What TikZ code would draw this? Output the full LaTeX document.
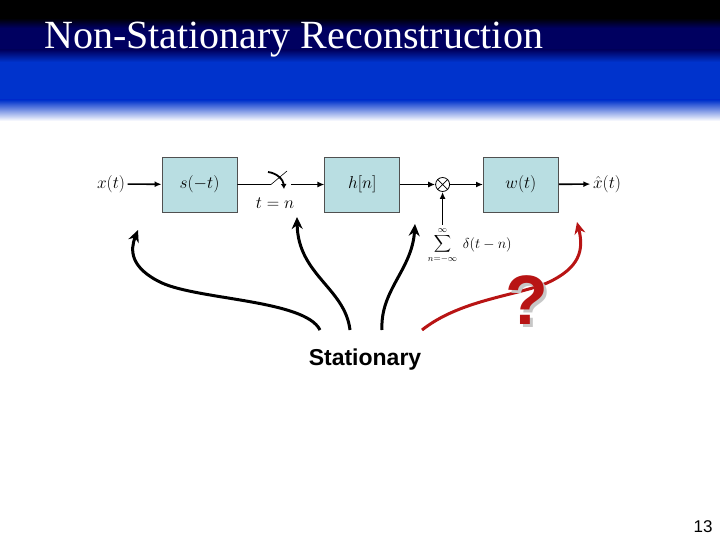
\documentclass[tikz,border=0pt]{standalone}
\usepackage{fontspec}
\usepackage{amsmath}
\usepackage{tikz}
\usetikzlibrary{positioning}
\usetikzlibrary{calc,arrows.meta}
\newfontfamily\headfont{Liberation Serif}
\newfontfamily\slidefont{Liberation Sans}
\definecolor{hd-navy}{HTML}{000060}
\definecolor{hd-blue}{HTML}{0033CC}
\definecolor{bx-fill}{HTML}{B9DEE2}
\definecolor{bx-edge}{HTML}{505050}
\definecolor{ask-red}{HTML}{B81414}

\begin{document}
\begin{tikzpicture}[
    x=1pt, y=-1pt, % pixel grid, origin top left
    node distance=87pt,
    >={Latex[length=7pt,width=6pt]},
    font=\fontsize{16}{18}\selectfont
  ]

  % Styles for the sampling chain
  \tikzset{
    blk/.style={draw=bx-edge, line width=0.8pt, fill=bx-fill, minimum width=75pt, minimum height=55pt, inner sep=0pt},
    sig/.style={->, line width=1.6pt},
    bigarrow/.style={line width=3pt, -{Stealth[length=12pt,width=11pt]}},
    lbl/.style={inner sep=2.5pt}
  }

  \useasboundingbox (0,0) rectangle (720,540);

  % Header band
  \fill[black] (0,0) rectangle (720,18);
  \shade[top color=black, bottom color=hd-navy] (0,18) rectangle (720,28);
  \fill[hd-navy] (0,28) rectangle (720,50);
  \shade[top color=hd-navy, bottom color=hd-blue] (0,50) rectangle (720,62);
  \fill[hd-blue] (0,62) rectangle (720,100);
  \shade[top color=hd-blue, bottom color=white] (0,100) rectangle (720,121);
  \node (title) [anchor=base west, inner sep=0pt, text=white, font=\headfont\fontsize{40}{44}\selectfont] at (44,49) {Non-Stationary Reconstruction};

  % Blocks
  \node (s) [blk] at (199.5,184.5) {$s(-t)$};
  \node (h) [blk, right=87pt of s] {$h[n]$};
  \node (mul) [circle, draw, line width=0.8pt, minimum size=14pt, inner sep=0pt, right=35pt of h] {};
  \node (w) [blk, right=33pt of mul] {$w(t)$};
  \draw[line width=0.8pt] (mul.north west) -- (mul.south east) (mul.north east) -- (mul.south west);

  \node (xin) [lbl] at (111,184) {$x(t)$};
  \node (xout) [lbl] at (607,184) {$\hat{x}(t)$};

  % Sampler switch
  \coordinate (swa) at (271,184.5);
  \coordinate (swb) at (287,171);
  \coordinate (swc) at (291,184.5);
  \node (tn) [lbl] at (275,203) {$t=n$};

  % Impulse train
  \coordinate (sumtop) at ($(mul.south)+(0,33)$);
  \node (dsum) [below=2pt of sumtop, inner sep=0pt, font=\fontsize{13}{15}\selectfont] {$\displaystyle\sum_{n=-\infty}^{\infty}$};
  \node (delta) [right=20pt of dsum.center, anchor=west, inner sep=0pt, font=\fontsize{15}{17}\selectfont] {$\delta(t-n)$};

  % Signal path
  \draw[sig] (xin) -- (s);
  \draw[line width=0.6pt] (s) -- (swa) -- (swb);
  \draw[line width=1.8pt, -{Latex[length=5pt,width=6pt]}] (268,172) to[bend left=40] (284,189);
  \draw[sig] (swc) -- (h);
  \draw[sig] (h) -- (mul);
  \draw[sig] (mul) -- (w);
  \draw[sig] (w) -- (xout);
  \draw[sig] (sumtop) -- (mul.south);

  % Pointers from the label
  \node (stat) [font=\slidefont\bfseries\fontsize{23}{25}\selectfont] at (365,360) {Stationary};
  \coordinate (a1) at (320,330);
  \coordinate (a2) at (350,330);
  \coordinate (a3) at (382,330);
  \coordinate (a4) at (422,330);
  \coordinate (b1) at (138,230);
  \coordinate (b2) at (297,217);
  \coordinate (b3) at (415,224);
  \coordinate (b4) at (577,222);
  \draw[bigarrow] (a1) .. controls (305,300) and (200,300) .. (162,283) .. controls (130,268) and (130,250) .. (b1);
  \draw[bigarrow] (a2) .. controls (345,288) and (298,275) .. (b2);
  \draw[bigarrow] (a3) .. controls (380,290) and (412,270) .. (b3);
  \draw[bigarrow, ask-red] (a4) .. controls (460,300) and (515,296) .. (547,283) .. controls (580,268) and (584,250) .. (b4);

  % Open question
  \node (askshadow) [text=black!22, font=\slidefont\bfseries\fontsize{70}{72}\selectfont] at (530,303) {?};
  \node (ask) [text=ask-red, font=\slidefont\bfseries\fontsize{70}{72}\selectfont] at (527,300) {?};

  % Slide number
  \node (pg) [font=\slidefont\fontsize{17}{19}\selectfont] at (703,527) {13};

\end{tikzpicture}
\end{document}
